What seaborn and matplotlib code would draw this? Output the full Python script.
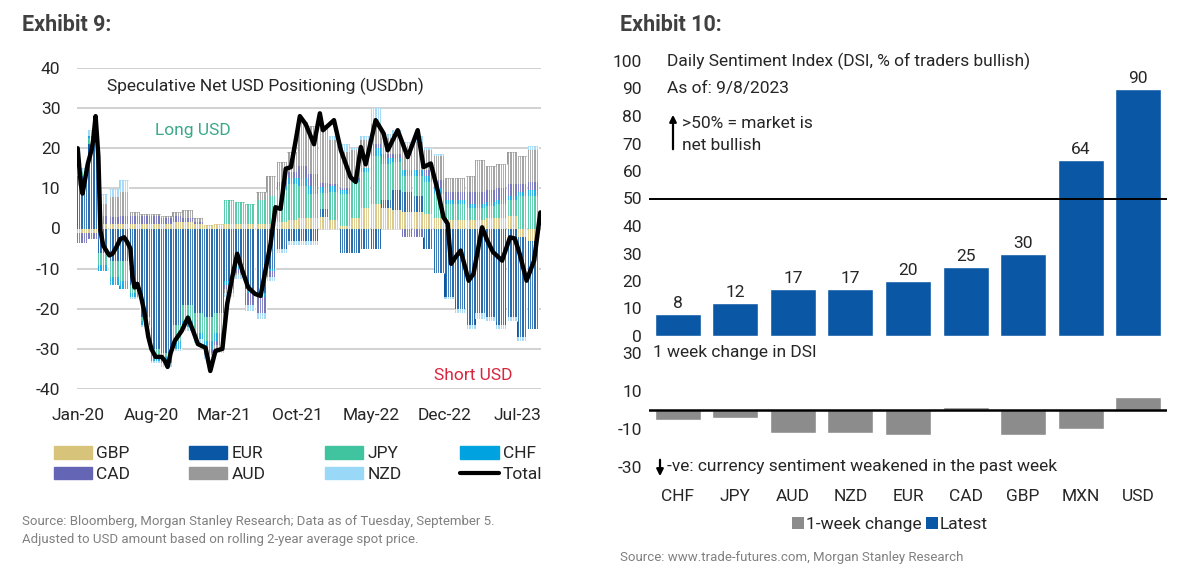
import numpy as np
import pandas as pd
import matplotlib
matplotlib.use("Agg")
import matplotlib.pyplot as plt
import matplotlib.dates as mdates
import seaborn as sns
from matplotlib.patches import Patch, FancyArrowPatch
from matplotlib.lines import Line2D

sns.set_style("white")
plt.rcParams['font.family'] = ['Roboto', 'DejaVu Sans']
plt.rcParams['axes.unicode_minus'] = False

# ---------------- Exhibit 9 data (monthly, Jan-20 .. Aug-23, USDbn) ----------------
month_start = "2020-01-01"
n_months = 44
gbp = [-1, -1, 1, 1, 1, 1, 1, 1, 1, 1.5, 1.5, 1,
       0.8, 1, 1, 1, 1, 1, 1, 1.5, 2, 2.5, 2.5, 2.8,
       2, 0.5, 2.5, 5, 6, 5, 4.5, 4, 4, 3.5, 2.5, 2,
       2, 2, 2, 2.5, 2.5, 3, -2, -3]
eur = [13, 21, -6, -8, -8, -14, -22, -30, -31, -24, -19, -21,
       -22, -21, -13, -9, -15, -16, -10, -5, -3, -3, -3, 2,
       0, -6, -6, -5, -5, 2, 5, 5, 4, -5, -11, -17,
       -20, -24, -21, -22, -24, -22, -25, -22]
jpy = [1, 1.5, -3, -4, -5, -2, -1, -1.5, -1, -4, -4, -5,
       -6, -5, 6, 5.5, 5, 6, 7, 8, 9, 8, 6, 4,
       7, 8, 9, 9, 12, 9, 7, 4, 5, 8, 6, 4,
       4, 3, 3, 3, 3.5, 4, 8, 8]
chf = [0, 0.5, -1.5, -2, -2, -1, -1, -1.5, -1.5, -2, -1.5, -1.5,
       -2, -2, -1, -1, -1, -1, -0.5, 1, 1.5, 2, 2, 1.5,
       1.5, 1, 0.5, 1, 2, 1.5, 1, 1.5, 1.5, 1.5, 1.5, 1,
       1, 1, 1, 1, 1, 1, 1, 1.5]
cad = [-2.5, -1.5, 2, 1.8, 2, 2, 2, 2, 1.5, 1.5, 1, 0.5,
       -1, -1, -1, -1, -3, -4, -1.5, 1, 1.5, 3, 3, 1,
       0.5, 0.5, 0.5, 0, 1, 1, 1, -2, -2, 1.5, 2, 2,
       2, 3, 3, 3, 3, 3, 2, 2]
aud = [0, 0, 3, 5, 6, 1, 0.5, 0.5, 0.5, 1, 2, 1,
       -0.5, -1, -1, -0.5, 0, 2, 5, 5, 5, 11, 12, 14,
       11, 9, 7, 7, 5, 4, 5, 6, 7, 5, 6, 3.5,
       3.5, 4, 8, 6, 6, 8, 7, 8]
nzd = [1, 1.5, 2.5, 2, 3, -0.5, -0.5, -0.5, -1, -0.5, -1, -1,
       -1, -1, -1, -1, -1.5, -1.5, -1, -1, -1, -1, -1, 0.5,
       1, 2, 0.5, 1, 4, 1, 1, 1, 1.5, 0.5, 0.5, -0.5,
       -1, -1, -1.5, -1, -1, -1, -1, 1]

ccy_names = ["GBP", "EUR", "JPY", "CHF", "CAD", "AUD", "NZD"]
ccy_colors = ["#D8C37B", "#0A58A5", "#40C4A0", "#00A3E0", "#6465B5", "#999999", "#9AD8F8"]

# Total line
total_dates = ["2020-01-01", "2020-01-10", "2020-01-15", "2020-01-24", "2020-01-30", "2020-02-10",
               "2020-02-15", "2020-02-22", "2020-03-01", "2020-03-07", "2020-03-15", "2020-03-24",
               "2020-04-02", "2020-04-11", "2020-04-22", "2020-05-04", "2020-05-15", "2020-05-24",
               "2020-06-02", "2020-06-08", "2020-06-14", "2020-06-22", "2020-07-01", "2020-07-12",
               "2020-07-24", "2020-08-02", "2020-08-14", "2020-09-01", "2020-09-10", "2020-09-18",
               "2020-09-27", "2020-10-09", "2020-10-29", "2020-11-16", "2020-12-01", "2020-12-15",
               "2021-01-06", "2021-01-20", "2021-02-04", "2021-02-24", "2021-03-10", "2021-03-25",
               "2021-04-08", "2021-04-23", "2021-05-10", "2021-05-30", "2021-06-15", "2021-06-29",
               "2021-07-14", "2021-07-28", "2021-08-12", "2021-08-27", "2021-09-11", "2021-09-25",
               "2021-10-07", "2021-10-24", "2021-11-17", "2021-12-04", "2021-12-13", "2022-01-14",
               "2022-02-03", "2022-03-03", "2022-03-18", "2022-04-02", "2022-04-16", "2022-05-15",
               "2022-06-07", "2022-06-19", "2022-07-18", "2022-08-16", "2022-09-14", "2022-10-01",
               "2022-10-22", "2022-11-11", "2022-11-28", "2022-12-10", "2022-12-20", "2023-01-03",
               "2023-01-17", "2023-02-09", "2023-02-23", "2023-03-20", "2023-04-04", "2023-04-21",
               "2023-05-17", "2023-06-09", "2023-06-23", "2023-07-07", "2023-07-27", "2023-08-18",
               "2023-09-05"]
total_vals = [20, 11, 8.7, 13, 16, 19.5,
              22, 28, 18, -0.5, -4.2, -5.5,
              -6.7, -6.3, -4.7, -2.6, -2.2, -3.4,
              -5, -12, -14.7, -13.8, -16.3, -20.5,
              -27, -30, -32, -32, -33, -34.5,
              -31, -28, -25.5, -22.2, -25.5, -28.8,
              -29.7, -35.5, -30.5, -30, -18.8, -12,
              -6.3, -10.5, -14.7, -16.3, -16.8, -10.5,
              -3.8, 5.3, 4.9, 14.9, 15.3, 22,
              28, 26, 21, 28.7, 24.5, 27,
              19.5, 12.8, 11.6, 20.3, 16, 27,
              23.7, 19.5, 24.5, 17.8, 24.5, 15.3,
              16.2, 9.5, 2.8, 1.2, -8.8, -7,
              -5.5, -13, -11.3, 0.3, -3, -5.9,
              -8, -2.2, -2.5, -6.3, -13, -8,
              4]

tick_dates = ["2020-01-01", "2020-08-01", "2021-03-01", "2021-10-01", "2022-05-01", "2022-12-01", "2023-07-01"]
tick_labels = ["Jan-20", "Aug-20", "Mar-21", "Oct-21", "May-22", "Dec-22", "Jul-23"]

# ---------------- Exhibit 10 data ----------------
dsi_ccy = ["CHF", "JPY", "AUD", "NZD", "EUR", "CAD", "GBP", "MXN", "USD"]
dsi_latest = [8, 12, 17, 17, 20, 25, 30, 64, 90]
dsi_change = [-5, -4, -12, -12, -13, 1.5, -13, -10, 7]

# ---------------- layout helpers ----------------
W, H = 1194, 581
def fx(x):
    return x / W
def fy(y):
    return 1 - y / H

TXT = "#262626"
fig = plt.figure(figsize=(W / 100, H / 100), dpi=100)

# ================= Exhibit 9 =================
ax1 = fig.add_axes([fx(77), fy(389), fx(541) - fx(77), fy(68) - fy(389)])
months = pd.date_range(month_start, periods=n_months, freq="MS")
bar_x = mdates.date2num(months + pd.Timedelta(days=14))
pos_base = np.zeros(n_months)
neg_base = np.zeros(n_months)
for name, vals, col in zip(ccy_names, [gbp, eur, jpy, chf, cad, aud, nzd], ccy_colors):
    v = np.array(vals, dtype=float)
    p = np.clip(v, 0, None)
    q = np.clip(v, None, 0)
    ax1.bar(bar_x, p, width=29.5, bottom=pos_base, color=col, linewidth=0, zorder=2)
    ax1.bar(bar_x, q, width=29.5, bottom=neg_base, color=col, linewidth=0, zorder=2)
    pos_base += p
    neg_base += q

# weekly white separators to give the striped weekly-bar texture
weeks = pd.date_range(month_start, periods=n_months * 31 // 7 + 1, freq="7D")
weeks = weeks[weeks < months[-1] + pd.offsets.MonthBegin(1)]
widx = (weeks.year - months[0].year) * 12 + weeks.month - 1
ax1.vlines(mdates.date2num(weeks), neg_base[widx], pos_base[widx], color="white", lw=0.9, zorder=3)

line_x = mdates.date2num(pd.to_datetime(total_dates))
sns.lineplot(x=line_x, y=total_vals, color="black", lw=3.2, ax=ax1, zorder=5, legend=False, sort=False)

ax1.set_xlim(mdates.date2num(pd.Timestamp("2019-12-30")), mdates.date2num(pd.Timestamp("2023-09-07")))
ax1.set_ylim(-40, 40)
ax1.set_yticks(range(-40, 41, 10))
ax1.set_xticks(mdates.date2num(pd.to_datetime(tick_dates)))
ax1.set_xticklabels(tick_labels)
ax1.grid(axis="y", color="#C9C9C9", lw=1.2)
ax1.set_axisbelow(True)
sns.despine(ax=ax1, left=True, bottom=True)
ax1.tick_params(axis="both", length=0, labelsize=12.5, colors=TXT)
ax1.tick_params(axis="y", pad=12)
ax1.tick_params(axis="x", pad=14)
ax1.set_xlabel("")
ax1.set_ylabel("")

fig.text(fx(107), fy(86), "Speculative Net USD Positioning (USDbn)", fontsize=12.5, color=TXT, va="center")
fig.text(fx(193), fy(130), "Long USD", fontsize=12.5, color="#3BA88A", va="center", ha="center")
fig.text(fx(473), fy(375), "Short USD", fontsize=12.5, color="#D7263D", va="center", ha="center")

handles = [Patch(color=c, label=n) for n, c in zip(ccy_names, ccy_colors)]
handles.append(Line2D([], [], color="black", lw=3, label="Total"))
order = [0, 4, 1, 5, 2, 6, 3, 7]
fig.legend([handles[i] for i in order], [handles[i].get_label() for i in order],
           loc="center", bbox_to_anchor=(fx(298), fy(464)), ncol=4, frameon=False,
           fontsize=12.5, handlelength=2.2, handleheight=0.75, handletextpad=0.25,
           columnspacing=3.4, labelspacing=0.3)

fig.text(fx(22), fy(25), "Exhibit 9:", fontsize=15.5, fontweight="bold", color="#404040", va="center")
fig.text(fx(22), fy(521), "Source: Bloomberg, Morgan Stanley Research; Data as of Tuesday, September 5.",
         fontsize=9.5, color="#808080", va="center")
fig.text(fx(22), fy(540), "Adjusted to USD amount based on rolling 2-year average spot price.",
         fontsize=9.5, color="#808080", va="center")

# ================= Exhibit 10 =================
df = pd.DataFrame({"ccy": dsi_ccy, "latest": dsi_latest, "change": dsi_change})

ax2 = fig.add_axes([fx(649), fy(336), fx(1167) - fx(649), fy(61) - fy(336)])
sns.barplot(data=df, x="ccy", y="latest", color="#0A58A5", saturation=1, width=0.8, ax=ax2)
ax2.bar_label(ax2.containers[0], fontsize=12.5, padding=2, color=TXT)
ax2.axhline(50, color="black", lw=1.4, zorder=3)
ax2.set_ylim(0, 100)
ax2.set_xlim(-0.5, 8.5)
ax2.set_yticks(range(0, 101, 10))
sns.despine(ax=ax2, left=True, bottom=True)
ax2.tick_params(axis="both", length=0, labelsize=12.5, colors=TXT)
ax2.tick_params(axis="y", pad=5)
ax2.tick_params(axis="x", labelbottom=False)
ax2.set_xlabel("")
ax2.set_ylabel("")

fig.text(fx(667), fy(61), "Daily Sentiment Index (DSI, % of traders bullish)", fontsize=12.5, color=TXT, va="center")
fig.text(fx(667), fy(88), "As of: 9/8/2023", fontsize=12.5, color=TXT, va="center")
fig.text(fx(682), fy(123), ">50% = market is", fontsize=12.5, color=TXT, va="center")
fig.text(fx(682), fy(146), "net bullish", fontsize=12.5, color=TXT, va="center")
fig.add_artist(FancyArrowPatch((fx(673), fy(152)), (fx(673), fy(112)),
                               transform=fig.transFigure, arrowstyle="-|>",
                               mutation_scale=10, color="black", lw=1.6))

ax3 = fig.add_axes([fx(649), fy(467), fx(1167) - fx(649), fy(353) - fy(467)])
sns.barplot(data=df, x="ccy", y="change", color="#8C8C8C", saturation=1, width=0.8, ax=ax3)
ax3.axhline(0, color="black", lw=1.8, zorder=3)
ax3.set_ylim(-30, 30)
ax3.set_xlim(-0.5, 8.5)
ax3.set_yticks([-30, -10, 10, 30])
sns.despine(ax=ax3, left=True, bottom=True)
ax3.tick_params(axis="both", length=0, labelsize=12.5, colors=TXT)
ax3.tick_params(axis="y", pad=5)
ax3.tick_params(axis="x", pad=16)
ax3.set_xlabel("")
ax3.set_ylabel("")

fig.text(fx(653), fy(353), "1 week change in DSI", fontsize=12.5, color=TXT, va="center")
fig.text(fx(667), fy(467), "-ve: currency sentiment weakened in the past week", fontsize=12.5, color=TXT, va="center")
fig.add_artist(FancyArrowPatch((fx(660), fy(457)), (fx(660), fy(479)),
                               transform=fig.transFigure, arrowstyle="-|>",
                               mutation_scale=10, color="black", lw=1.6))

leg_handles = [Line2D([], [], marker="s", ls="", markersize=8, markerfacecolor="#8C8C8C",
                      markeredgewidth=0, label="1-week change"),
               Line2D([], [], marker="s", ls="", markersize=8, markerfacecolor="#0A58A5",
                      markeredgewidth=0, label="Latest")]
fig.legend(handles=leg_handles, loc="center", bbox_to_anchor=(fx(890), fy(524)), ncol=2,
           frameon=False, fontsize=12.5, handlelength=0.6, handletextpad=0.15, columnspacing=0.3)

fig.text(fx(620), fy(25), "Exhibit 10:", fontsize=15.5, fontweight="bold", color="#404040", va="center")
fig.text(fx(620), fy(558), "Source: www.trade-futures.com, Morgan Stanley Research",
         fontsize=9.5, color="#808080", va="center")

fig.savefig("out.png", dpi=100)
